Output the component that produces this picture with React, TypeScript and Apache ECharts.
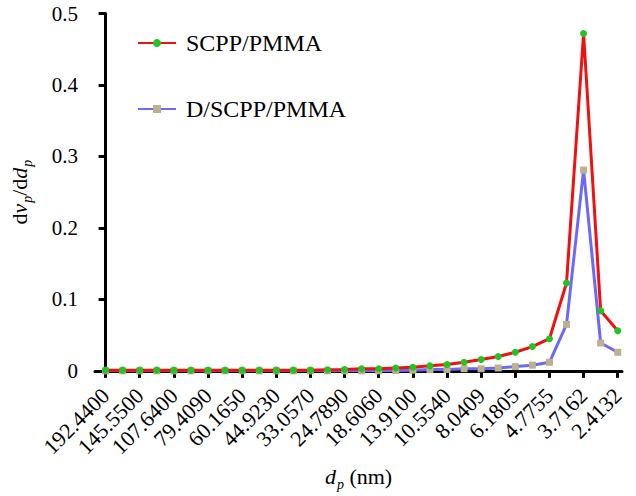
import React, { useEffect, useRef } from "react";
import * as echarts from "echarts";

const tickLabels = [
  "192.4400", "145.5500", "107.6400", "79.4090", "60.1650", "44.9230", "33.0570", "24.7890",
  "18.6060", "13.9100", "10.5540", "8.0409", "6.1805", "4.7755", "3.7162", "2.4132",
];

// 31 measured points (labels shown at every other point)
const scppPmma = [
  0.001, 0.001, 0.001, 0.001, 0.001, 0.001, 0.001, 0.001, 0.001, 0.001,
  0.001, 0.001, 0.001, 0.0015, 0.002, 0.003, 0.003, 0.004, 0.005, 0.007,
  0.009, 0.012, 0.016, 0.02, 0.026, 0.034, 0.045, 0.123, 0.472, 0.084, 0.056,
];
const dScppPmma = [
  0, 0, 0, 0, 0, 0, 0, 0, 0, 0,
  0, 0, 0, 0, 0, 0, 0, 0.0005, 0.001, 0.002,
  0.002, 0.003, 0.003, 0.004, 0.006, 0.008, 0.012, 0.065, 0.281, 0.039, 0.026,
];

const seriesNames = ["SCPP/PMMA", "D/SCPP/PMMA"];
const yTicks = [0, 0.1, 0.2, 0.3, 0.4, 0.5];

const FONT = "Liberation Serif";

export default function App() {
  const ref = useRef<HTMLDivElement>(null);
  useEffect(() => {
    if (!ref.current) return;
    const chart = echarts.init(ref.current, undefined, { renderer: "svg" });
    const toPairs = (arr: number[]) => arr.map((v, i) => [i, v]);
    const tickPositions = tickLabels.map((_, i) => i * 2);
    chart.setOption({
      animation: false,
      backgroundColor: "#ffffff",
      textStyle: { fontFamily: FONT, color: "#000" },
      grid: { left: 92, right: 14, top: 13.5, bottom: 125, containLabel: false },
      legend: {
        orient: "vertical",
        left: 132,
        top: 26,
        itemGap: 42,
        itemWidth: 38,
        itemHeight: 10,
        data: seriesNames,
        textStyle: { fontFamily: FONT, fontSize: 24, color: "#000", padding: [0, 0, 0, 5] },
      },
      xAxis: {
        type: "value",
        min: -0.62,
        max: 30.25,
        name: "{i|d}{s|p}{n| (nm)}",
        nameLocation: "middle",
        nameGap: 82,
        nameTextStyle: {
          fontFamily: FONT,
          color: "#000",
          rich: {
            i: { fontFamily: FONT, fontStyle: "italic", fontSize: 22, color: "#000", verticalAlign: "top", lineHeight: 24 },
            s: { fontFamily: FONT, fontStyle: "italic", fontSize: 14, color: "#000", padding: [12, 0, 0, 1], lineHeight: 14, verticalAlign: "top" },
            n: { fontFamily: FONT, fontSize: 22, color: "#000", verticalAlign: "top", lineHeight: 24 },
          },
        },
        axisLine: { show: true, onZero: false, lineStyle: { color: "#000", width: 3 } },
        axisTick: { show: true, customValues: tickPositions, length: 7, lineStyle: { color: "#000", width: 3 } },
        axisLabel: {
          customValues: tickPositions,
          rotate: 45,
          margin: 21,
          padding: [17, 0, 0, 0],
          fontFamily: FONT,
          fontSize: 22,
          color: "#000",
          formatter: (v: number) => tickLabels[Math.round(v / 2)] ?? "",
        },
        splitLine: { show: false },
      },
      yAxis: {
        type: "value",
        min: 0,
        max: 0.5,
        interval: 0.1,
        name: "{u|d}{v|v}{s|p}{u|/d}{v|d}{s|p}",
        nameLocation: "middle",
        nameRotate: 90,
        nameGap: 63,
        nameTextStyle: {
          fontFamily: FONT,
          color: "#000",
          rich: {
            u: { fontFamily: FONT, fontSize: 22, color: "#000", verticalAlign: "top", lineHeight: 24 },
            v: { fontFamily: FONT, fontStyle: "italic", fontSize: 22, color: "#000", verticalAlign: "top", lineHeight: 24 },
            s: { fontFamily: FONT, fontStyle: "italic", fontSize: 14, color: "#000", padding: [12, 0, 0, 1], lineHeight: 14, verticalAlign: "top" },
          },
        },
        axisLine: { show: true, lineStyle: { color: "#000", width: 3 } },
        axisTick: { show: true, length: 7, lineStyle: { color: "#000", width: 3 } },
        axisLabel: {
          margin: 17,
          fontFamily: FONT,
          fontSize: 21,
          color: "#000",
          customValues: yTicks,
          formatter: (v: number) => (v === 0 ? "0" : v.toFixed(1)),
        },
        splitLine: { show: false },
      },
      series: [
        {
          name: seriesNames[1],
          type: "line",
          data: toPairs(dScppPmma),
          symbol: "rect",
          symbolSize: 7,
          lineStyle: { color: "#6a6af6", width: 3 },
          itemStyle: { color: "#bdb08c" },
          z: 2,
        },
        {
          name: seriesNames[0],
          type: "line",
          data: toPairs(scppPmma),
          symbol: "circle",
          symbolSize: 7,
          lineStyle: { color: "#f01010", width: 3 },
          itemStyle: { color: "#22c422" },
          z: 3,
        },
      ],
    });
    return () => chart.dispose();
  }, []);
  return (
    <div
      ref={ref}
      style={{ position: "fixed", left: 0, top: 0, width: 636, height: 496 }}
    />
  );
}
